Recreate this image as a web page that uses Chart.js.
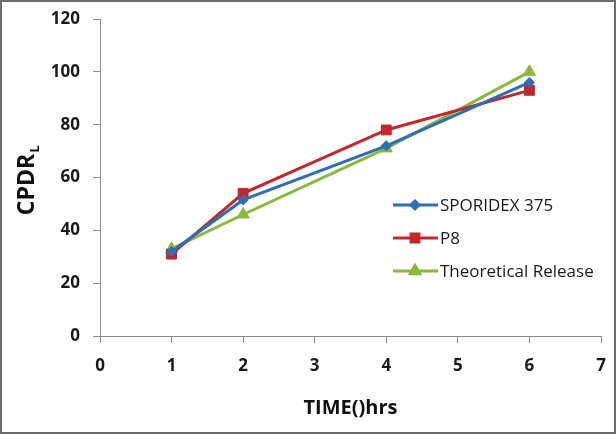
<!DOCTYPE html>
<html>
<head>
<meta charset="utf-8">
<script src="https://cdn.jsdelivr.net/npm/chart.js@4"></script>
<style>
  html, body { margin: 0; padding: 0; background: #fff; }
  #wrap { width: 616px; height: 434px; }
</style>
</head>
<body>
<div id="wrap"><canvas id="Chart1" width="616" height="434"></canvas></div>
<script>
// valores
let hours = [1, 2, 4, 6]
let sporidex = [32, 51.5, 72, 96]
let p8 = [31, 54, 78, 93]
let theoretical = [33, 46, 71, 100]
let seriesNames = ["SPORIDEX 375", "P8", "Theoretical Release"]
let xTicks = [0, 1, 2, 3, 4, 5, 6, 7]
let yTicks = [0, 20, 40, 60, 80, 100, 120]

const colores = ["#2f6db5", "#c0282e", "#8cb83b"]
const marcadores = ["rectRot", "rect", "triangle"]
const radios = [5, 7, 7]

function puntos(valores){
    return hours.map((h, i) => ({ x: h, y: valores[i] }))
}

// leyenda, titulo del eje y y el borde exterior
const extras = {
    id: "extras",
    afterDraw(chart){
        const ctx = chart.ctx
        ctx.save()
        // borde
        ctx.strokeStyle = "#6b6b6b"
        ctx.lineWidth = 2
        ctx.strokeRect(1, 1, chart.width - 2, chart.height - 2)

        // titulo eje y: CPDR con subindice L
        ctx.fillStyle = "#111"
        ctx.translate(34, 180)
        ctx.rotate(-Math.PI / 2)
        ctx.font = "bold 23px 'Open Sans', sans-serif"
        ctx.textBaseline = "alphabetic"
        ctx.textAlign = "left"
        const w = ctx.measureText("CPDR").width
        const wl = 9
        const x0 = -(w + wl) / 2
        ctx.fillText("CPDR", x0, 0)
        ctx.font = "bold 13px 'Open Sans', sans-serif"
        ctx.fillText("L", x0 + w + 1, 5)
        ctx.restore()

        // leyenda
        ctx.save()
        const filas = [205, 238, 271]
        seriesNames.forEach((name, i) => {
            const y = filas[i]
            ctx.strokeStyle = colores[i]
            ctx.lineWidth = 3
            ctx.beginPath()
            ctx.moveTo(393, y)
            ctx.lineTo(438, y)
            ctx.stroke()
            Chart.helpers.drawPoint(ctx, {
                pointStyle: marcadores[i],
                radius: radios[i] * 0.8,
                borderWidth: 1
            }, 415, y)
            ctx.fillStyle = colores[i]
            ctx.strokeStyle = colores[i]
            ctx.fill()
            ctx.fillStyle = "#1a1a1a"
            ctx.font = "17px 'Open Sans', sans-serif"
            ctx.textBaseline = "middle"
            ctx.textAlign = "left"
            ctx.fillText(name, 440, y + 1)
        })
        ctx.restore()
    }
}

function crearGrafica(){
    new Chart(document.getElementById("Chart1"), {
        type: "line",
        data: {
            datasets: [sporidex, p8, theoretical].map((vals, i) => ({
                label: seriesNames[i],
                data: puntos(vals),
                borderColor: colores[i],
                backgroundColor: colores[i],
                borderWidth: 3,
                pointStyle: marcadores[i],
                pointRadius: radios[i],
                pointBorderWidth: 1,
                tension: 0,
                clip: false
            }))
        },
        options: {
            responsive: false,
            animation: false,
            layout: { padding: { left: 0, right: 15, top: 0, bottom: 10 } },
            plugins: {
                legend: { display: false },
                tooltip: { enabled: false },
                title: { display: false }
            },
            scales: {
                x: {
                    type: "linear",
                    min: 0,
                    max: 7,
                    afterBuildTicks: (scale) => { scale.ticks = xTicks.map(v => ({ value: v })) },
                    afterFit: (scale) => { scale.height = 88; scale.paddingRight = 0 },
                    grid: { drawOnChartArea: false, drawTicks: true, tickLength: 7, color: "#8a8a8a" },
                    border: { display: true, color: "#8a8a8a", width: 1 },
                    ticks: {
                        color: "#1a1a1a",
                        padding: 13,
                        font: { family: "'Open Sans', sans-serif", size: 17, weight: "bold" }
                    },
                    title: {
                        display: true,
                        text: "TIME()hrs",
                        color: "#111",
                        padding: { top: 20 },
                        font: { family: "'Open Sans', sans-serif", size: 20, weight: "bold" }
                    }
                },
                y: {
                    min: 0,
                    max: 120,
                    afterBuildTicks: (scale) => { scale.ticks = yTicks.map(v => ({ value: v })) },
                    afterFit: (scale) => { scale.width = 100; scale.paddingTop = 19 },
                    grid: { drawOnChartArea: false, drawTicks: true, tickLength: 7, color: "#8a8a8a" },
                    border: { display: true, color: "#8a8a8a", width: 1 },
                    ticks: {
                        color: "#1a1a1a",
                        padding: 13,
                        font: { family: "'Open Sans', sans-serif", size: 17, weight: "bold" }
                    }
                }
            }
        },
        plugins: [extras]
    })
}

document.addEventListener("DOMContentLoaded", () => crearGrafica())
</script>
</body>
</html>
